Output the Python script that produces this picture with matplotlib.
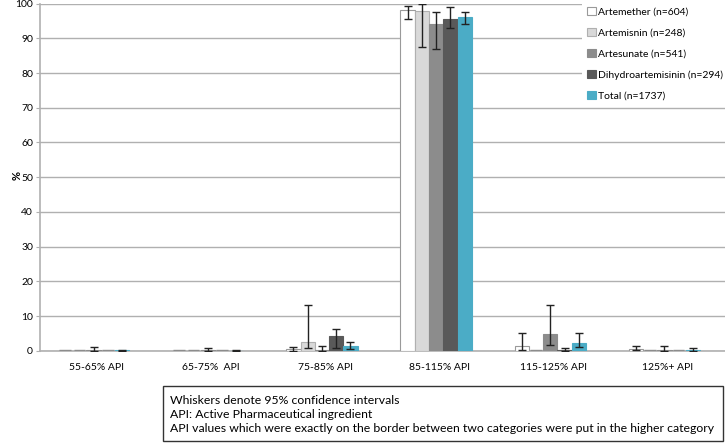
import matplotlib.pyplot as plt
from matplotlib.patches import Patch
import numpy as np

plt.rcParams['font.family'] = ['Lato', 'DejaVu Sans']

# categories and series
categories = ['55-65% API', '65-75%  API', '75-85% API', '85-115% API', '115-125% API', '125%+ API']
series = ['Artemether (n=604)', 'Artemisnin (n=248)', 'Artesunate (n=541)',
          'Dihydroartemisinin (n=294)', 'Total (n=1737)']

artemether = [0.0, 0.0, 0.5, 98.2, 1.5, 0.7]
artemisnin = [0.0, 0.0, 2.6, 97.8, 0.0, 0.0]
artesunate = [0.2, 0.2, 0.4, 94.0, 4.8, 0.2]
dihydro = [0.0, 0.0, 4.4, 95.4, 0.3, 0.0]
total = [0.2, 0.1, 1.3, 96.0, 2.2, 0.2]

# 95% CI bounds (lower, upper)
artemether_lo = [0.0, 0.0, 0.1, 95.6, 0.3, 0.2]
artemether_hi = [0.0, 0.0, 1.1, 99.3, 5.1, 1.4]
artemisnin_lo = [0.0, 0.0, 0.8, 87.4, 0.0, 0.0]
artemisnin_hi = [0.0, 0.0, 13.1, 99.9, 0.0, 0.0]
artesunate_lo = [0.0, 0.0, 0.1, 87.0, 1.7, 0.0]
artesunate_hi = [1.2, 1.0, 1.5, 97.5, 13.1, 1.4]
dihydro_lo = [0.0, 0.0, 0.8, 92.9, 0.0, 0.0]
dihydro_hi = [0.0, 0.0, 6.4, 99.1, 0.9, 0.0]
total_lo = [0.1, 0.0, 0.7, 94.2, 1.1, 0.0]
total_hi = [0.4, 0.3, 2.6, 97.5, 5.1, 1.0]

values = [artemether, artemisnin, artesunate, dihydro, total]
lows = [artemether_lo, artemisnin_lo, artesunate_lo, dihydro_lo, total_lo]
highs = [artemether_hi, artemisnin_hi, artesunate_hi, dihydro_hi, total_hi]
colors = ['#ffffff', '#d9d9d9', '#8c8c8c', '#595959', '#4bacc6']
edges = ['#9a9a9a', '#b0b0b0', '#8c8c8c', '#595959', '#4bacc6']

fig = plt.figure(figsize=(7.25, 4.44), dpi=100)
ax = fig.add_axes([0.055, 0.2095, 0.945, 0.7826])

x = np.arange(len(categories))
w = 0.125
for i in range(5):
    xs = x + (i - 2) * w - 0.03
    v = np.array(values[i])
    lo = np.array(lows[i])
    hi = np.array(highs[i])
    ax.bar(xs, v, w, color=colors[i], edgecolor=edges[i], linewidth=0.8, zorder=3)
    # flat dashes for empty categories
    zero = v == 0
    ax.hlines(np.full(zero.sum(), 0.15), xs[zero] - w * 0.4, xs[zero] + w * 0.4,
              color='#8c8c8c', linewidth=1, zorder=3)
    has = hi > 0
    ax.errorbar(xs[has], v[has], yerr=[(v - lo)[has], (hi - v)[has]], fmt='none',
                ecolor='#222222', elinewidth=1, capsize=3, capthick=1, zorder=4)

ax.set_xlim(-0.5, 5.5)
ax.set_ylim(0, 100)
ax.set_yticks(range(0, 101, 10))
ax.set_xticks(x)
ax.set_xticklabels(categories, fontsize=7.5)
ax.tick_params(axis='y', labelsize=7.5, length=3, color='#b0b0b0', pad=2)
ax.tick_params(axis='x', length=0, pad=9)
ax.grid(axis='y', color='#b0b0b0', linewidth=1, zorder=0)
for s in ['top', 'right']:
    ax.spines[s].set_visible(False)
ax.spines['left'].set_color('#b0b0b0')
ax.spines['bottom'].set_color('#b0b0b0')
ax.spines['left'].set_linewidth(1.2)
ax.spines['bottom'].set_linewidth(1.2)
fig.text(0.016, 0.605, '%', rotation=90, fontsize=8, fontweight='bold', va='center')

handles = [Patch(facecolor=colors[i], edgecolor=edges[i], linewidth=0.8) for i in range(5)]
leg = fig.legend(handles, series, loc='upper left', bbox_to_anchor=(0.803, 0.995),
                 fontsize=7.5, frameon=True, handlelength=0.8, handleheight=0.8,
                 handletextpad=0.2, labelspacing=1.08, borderpad=0.5, borderaxespad=0)
leg.get_frame().set_edgecolor('none')
leg.get_frame().set_facecolor('white')
leg.get_frame().set_alpha(1)

note = ('Whiskers denote 95% confidence intervals\n'
        'API: Active Pharmaceutical ingredient\n'
        'API values which were exactly on the border between two categories were put in the higher category')
box = plt.Rectangle((0.225, 0.007), 0.772, 0.124, transform=fig.transFigure,
                    fill=False, edgecolor='#333333', linewidth=1)
fig.add_artist(box)
fig.text(0.234, 0.067, note, fontsize=8.8, va='center', ha='left', linespacing=1.33)

fig.savefig('out.png', dpi=100)
